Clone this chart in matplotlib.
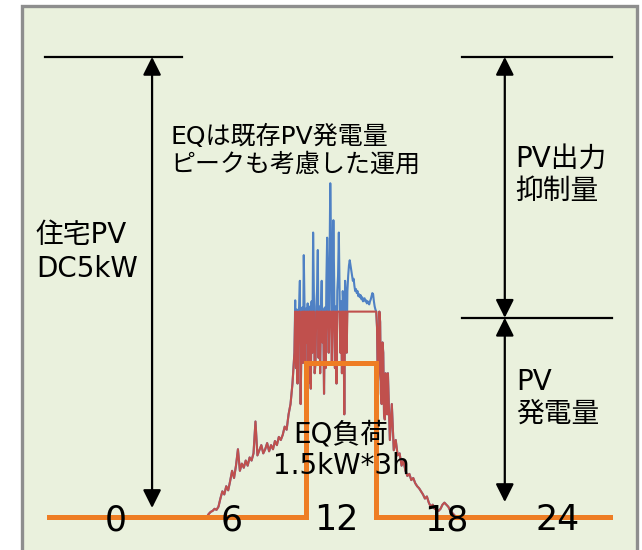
import numpy as np
import matplotlib
matplotlib.use("Agg")
import matplotlib.pyplot as plt
from matplotlib.patches import Rectangle

plt.rcParams['font.family'] = ['DejaVu Sans', 'Noto Sans CJK JP']

# PV generation (kW)
# morning: 5-minute samples from 6:45
pv_morning = [
    0.00, 0.03, 0.05, 0.06, 0.08, 0.07, 0.10, 0.18, 0.25, 0.22, 0.30, 0.26,
    0.35, 0.45, 0.38, 0.50, 0.66, 0.45, 0.52, 0.48, 0.55, 0.50, 0.58, 0.55,
    0.62, 0.93, 0.60, 0.65, 0.70, 0.62, 0.66, 0.72, 0.64, 0.70, 0.66, 0.74,
    0.70, 0.78, 0.75, 0.80, 0.88, 0.85, 1.00, 1.10, 1.30,
]
# midday: 2-minute samples from 10:30
pv_midday = [
    1.60, 2.11, 1.45, 2.02, 1.30, 1.95, 2.05, 2.30, 1.10, 1.70,
    2.04, 1.50, 2.55, 2.05, 1.35, 2.03, 1.70, 2.08, 1.30, 2.04,
    2.05, 1.25, 2.10, 1.60, 2.77, 2.15, 1.40, 1.50, 2.05, 2.20,
    2.60, 1.55, 2.05, 1.40, 2.04, 2.30, 1.70, 2.02, 1.20, 2.04,
    1.45, 2.30, 2.72, 2.25, 1.60, 2.40, 3.25, 2.70, 1.50, 2.20,
    2.89, 2.30, 1.45, 2.05, 1.30, 2.20, 2.35, 2.77, 2.20, 1.60,
    2.10, 1.40, 2.20, 2.05, 1.00, 2.30, 2.15, 1.60, 2.20, 2.35,
    2.45, 2.50, 2.45, 2.40, 2.35, 2.30, 2.32, 2.25, 2.20, 2.22,
    2.18, 2.20, 2.15, 2.17, 2.14, 2.16, 2.12, 2.14, 2.10, 2.12,
    2.13, 2.10, 2.11, 2.08, 2.10, 2.09, 2.07, 2.10, 2.12, 2.15,
    2.18, 2.17, 2.10, 2.05, 2.02, 2.00, 1.85, 1.30, 1.40, 2.00,
    1.90, 1.20, 1.10, 1.70, 1.60, 1.00, 0.95, 1.40, 1.10, 1.00,
]
# afternoon: 5-minute samples from 14:30
pv_afternoon = [
    1.40, 0.75, 1.10, 0.65, 0.75, 0.60, 0.62, 0.50, 0.55, 0.45, 0.40, 0.42,
    0.36, 0.38, 0.33, 0.30, 0.28, 0.25, 0.22, 0.18, 0.20, 0.14, 0.10, 0.12,
    0.08, 0.07, 0.06, 0.08, 0.12, 0.14, 0.12, 0.10, 0.06, 0.04, 0.02, 0.00,
]

pv_hours = np.concatenate([
    6.75 + np.arange(len(pv_morning)) * 5 / 60,
    10.5 + np.arange(len(pv_midday)) * 2 / 60,
    14.5 + np.arange(len(pv_afternoon)) * 5 / 60,
])
pv_generation = np.array(pv_morning + pv_midday + pv_afternoon)

# Output curtailment level (kW)
curtail_limit = 2.0

# EQ load profile (kW): 1.5 kW for 3 h
eq_hours = [0, 11, 11, 14, 14, 24]
eq_load = [0, 0, 1.5, 1.5, 0, 0]

# Guide levels (kW)
capacity_level = 4.48
curtail_guide = 1.94

tick_labels = ["0", "6", "12", "18", "24"]
tick_positions = [2.87, 7.83, 12.28, 16.98, 21.78]

BLUE = "#4f81c4"
RED = "#c0504d"
ORANGE = "#ee7d24"
BG = "#eaf1dd"

fig = plt.figure(figsize=(6.42, 5.50), dpi=100)
fig.patch.set_facecolor("white")

ax = fig.add_axes([0, 0, 1, 1])
ax.set_xlim(-2.096, 25.37)
ax.set_ylim(-0.321, 5.034)
ax.axis("off")

# panel frame
frame = Rectangle((22 / 642, -0.05), (637 - 22) / 642, (550 - 6) / 550 + 0.05,
                  transform=fig.transFigure, facecolor=BG, edgecolor="#8e8e8e",
                  linewidth=2.4, zorder=0, clip_on=False)
ax.add_patch(frame)

ax.plot(pv_hours, pv_generation, color=BLUE, lw=1.5, zorder=2)
ax.plot(pv_hours, np.minimum(pv_generation, curtail_limit), color=RED,
        lw=1.5, zorder=3)
ax.plot(eq_hours, eq_load, color=ORANGE, lw=3.6, zorder=4, solid_joinstyle="miter")

# dimension lines
line_kw = dict(color="black", lw=1.6, zorder=5)
ax.plot([-0.17, 5.7], [capacity_level, capacity_level], **line_kw)
ax.plot([17.67, 24.08], [capacity_level, capacity_level], **line_kw)
ax.plot([17.67, 24.08], [curtail_guide, curtail_guide], **line_kw)

arrow_kw = dict(arrowstyle="<|-|>,head_length=1.1,head_width=0.55",
                color="black", lw=1.6, shrinkA=0, shrinkB=0, mutation_scale=10)
ax.annotate("", xy=(4.41, capacity_level), xytext=(4.41, 0.088),
            arrowprops=arrow_kw, zorder=5)
ax.annotate("", xy=(19.5, capacity_level), xytext=(19.5, curtail_guide),
            arrowprops=arrow_kw, zorder=5)
ax.annotate("", xy=(19.5, curtail_guide), xytext=(19.5, 0.146),
            arrowprops=arrow_kw, zorder=5)

# hour labels along the baseline
for pos, lab in zip(tick_positions, tick_labels):
    ax.text(pos, -0.03, lab, fontsize=25, ha="center", va="center", zorder=6)

ax.text(-0.56, 2.58, "住宅PV\nDC5kW", fontsize=20, ha="left", va="center",
        linespacing=1.25, zorder=6)
ax.text(5.18, 3.57, "EQは既存PV発電量\nピークも考慮した運用", fontsize=18,
        ha="left", va="center", linespacing=1.2, zorder=6)
ax.text(19.94, 3.33, "PV出力\n抑制量", fontsize=20, ha="left", va="center",
        linespacing=1.2, zorder=6)
ax.text(20.0, 1.16, "PV\n発電量", fontsize=20, ha="left", va="center",
        linespacing=1.2, zorder=6)
ax.text(12.49, 0.65, "EQ負荷\n1.5kW*3h", fontsize=20, ha="center", va="center",
        multialignment="center", linespacing=1.2, zorder=6)

fig.savefig("out.png", dpi=100)
